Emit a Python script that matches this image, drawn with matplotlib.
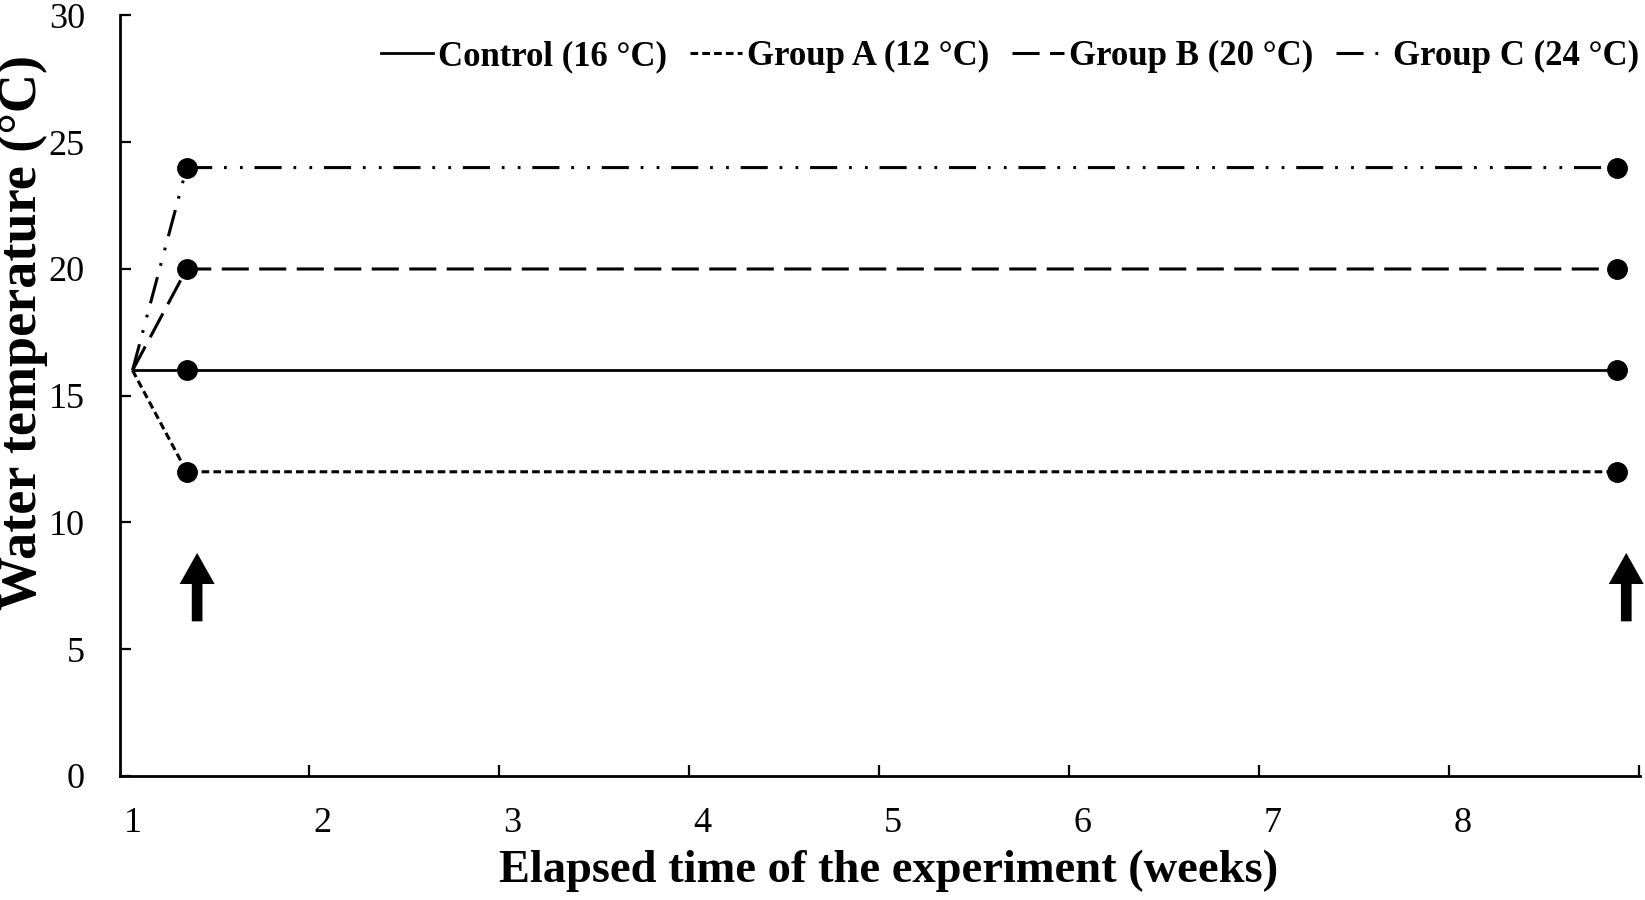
# import libraries
import numpy as np
import matplotlib
matplotlib.use('Agg')
import matplotlib.pyplot as plt

# data
weeks = [1.0, 1.285, 8.81]
control = [16, 16, 16]
group_a = [16, 12, 12]
group_b = [16, 20, 20]
group_c = [16, 24, 24]
labels = ['Control (16 \u00b0C)', 'Group A (12 \u00b0C)', 'Group B (20 \u00b0C)', 'Group C (24 \u00b0C)']
arrow_weeks = [1.34, 8.86]
arrow_from = 6.1
arrow_to = 8.8
week_ticks = [1, 2, 3, 4, 5, 6, 7, 8]
temp_ticks = [0, 5, 10, 15, 20, 25, 30]

# fonts
plt.rcParams['font.family'] = ['Liberation Serif', 'DejaVu Serif']
plt.rcParams['lines.scale_dashes'] = False

# create plot
fig = plt.figure(figsize=(16.45, 9), dpi=100)
ax = fig.add_axes([0.0727, 0.1378, 0.924, 0.845])

series = [control, group_a, group_b, group_c]
styles = [
    dict(linestyle='-', linewidth=2.0),
    dict(linestyle=(0, (5.5, 3)), linewidth=2.2),
    dict(linestyle=(0, (19.5, 7.5)), linewidth=2.2),
    dict(linestyle=(0, (19.5, 8.5, 2, 9.5, 2, 8.5)), linewidth=2.2),
]
for vals, lab, st in zip(series, labels, styles):
    ax.plot(weeks, vals, color='black', label=lab, **st)
    # markers only on the measured points
    ax.plot(weeks[1:], vals[1:], linestyle='none', marker='o',
            markersize=14, color='black')

# arrows
for w in arrow_weeks:
    ax.annotate('', xy=(w, arrow_to), xytext=(w, arrow_from),
                arrowprops=dict(arrowstyle='simple,head_length=1.6,head_width=1.8,tail_width=0.55',
                                mutation_scale=14, fc='black', ec='none',
                                shrinkA=0, shrinkB=0))

# set axis range
ax.set_xlim(0.932, 8.93)
ax.set_ylim(0, 30)

# ticks
ax.set_xticks(week_ticks)
ax.set_xticklabels([str(t) for t in week_ticks])
ax.set_xticks(np.arange(1.928, 9.0, 1.0), minor=True)
ax.tick_params(axis='x', which='major', length=0, pad=22, labelsize=26)
ax.tick_params(axis='x', which='minor', direction='in', length=8, width=1.6)
ax.set_yticks(temp_ticks)
ax.tick_params(axis='y', direction='in', length=8, width=1.6, pad=25, labelsize=26)

# spines
for s in ['top', 'right']:
    ax.spines[s].set_visible(False)
for s in ['left', 'bottom']:
    ax.spines[s].set_linewidth(2)

# set titles
ax.set_xlabel('Elapsed time of the experiment (weeks)', fontsize=33.5, fontweight='bold')
ax.set_ylabel('Water temperature (\u00b0C)', fontsize=39, fontweight='bold')
ax.xaxis.set_label_coords(0.506, -0.097)
ax.yaxis.set_label_coords(-0.047, 0.583)

# legend
ax.legend(loc='upper right', bbox_to_anchor=(1.0, 0.968), ncol=4, frameon=False,
          prop=dict(weight='bold', size=25), handlelength=1.5, handletextpad=0.15,
          columnspacing=0.65, borderaxespad=0, borderpad=0)

fig.savefig('out.png', dpi=100)
